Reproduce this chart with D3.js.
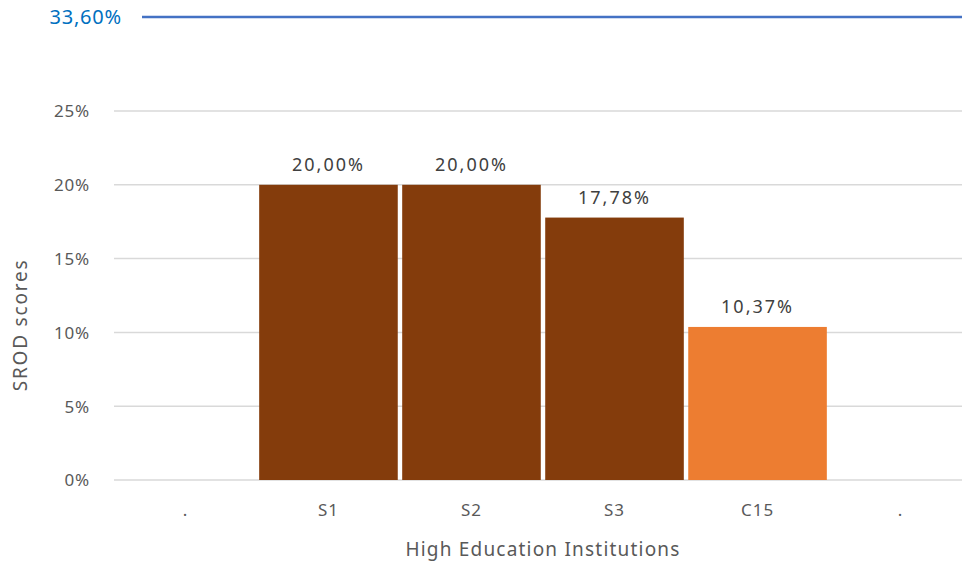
<!DOCTYPE html>
<html>
<head>
<meta charset="utf-8">
<script src="https://cdn.jsdelivr.net/npm/d3@7"></script>
<style>
  body { margin: 0; background: #fff; }
  svg { display: block; font-family: 'Noto Sans', sans-serif; }
  .tick text { fill: #595959; }
</style>
</head>
<body>
<svg width="962" height="562"></svg>
<script>
const categories = ['.', 'S1', 'S2', 'S3', 'C15', '..']
const tickLabels = ['.', 'S1', 'S2', 'S3', 'C15', '.']
const values = [null, 20.00, 20.00, 17.78, 10.37, null]
const barColors = [null, '#843C0C', '#843C0C', '#843C0C', '#ED7D31', null]
const yTicks = [0, 5, 10, 15, 20, 25]
const benchmark = 33.60

const fmt = (v) => v.toFixed(2).replace('.', ',') + '%'

function setDimensions () {
  const margin = { top: 111, right: -10, bottom: 82, left: 114 }
  const width = 962
  const height = 562
  return { width, height, margin }
}

function setScales ({ width, height, margin }) {
  const xScale = d3.scaleBand()
    .domain(categories)
    .range([margin.left, width - margin.right])
    .paddingInner(0.031)
    .paddingOuter(0.015)
  const yScale = d3.scaleLinear()
    .domain([0, 25])
    .range([height - margin.bottom, margin.top])
  return { xScale, yScale }
}

function drawGrid (svg, { width, margin }, { yScale }) {
  svg.append('g')
    .selectAll('line')
    .data(yTicks)
    .join('line')
      .attr('x1', margin.left)
      .attr('x2', width - margin.right)
      .attr('y1', (d) => yScale(d))
      .attr('y2', (d) => yScale(d))
      .attr('stroke', '#D9D9D9')
      .attr('stroke-width', 1.5)
}

function drawAxes (svg, dim, { xScale, yScale }) {
  const yAxis = svg.append('g')
    .attr('transform', 'translate(' + (dim.margin.left - 21) + ',0)')
    .call(d3.axisLeft(yScale).tickValues(yTicks).tickSize(0).tickFormat((t) => t + '%'))
  yAxis.select('.domain').remove()
  yAxis.selectAll('text')
    .attr('font-size', 17)
    .attr('font-family', 'Noto Sans')
    .attr('letter-spacing', 0.8)
    .attr('dy', '0.35em')

  const xAxis = svg.append('g')
    .attr('transform', 'translate(0,' + (dim.height - dim.margin.bottom) + ')')
    .call(d3.axisBottom(xScale).tickSize(0).tickFormat((d, i) => tickLabels[i]))
  xAxis.select('.domain').remove()
  xAxis.selectAll('text')
    .attr('font-size', 17)
    .attr('font-family', 'Noto Sans')
    .attr('letter-spacing', 1)
    .attr('dy', '1.95em')
}

function drawBars (svg, { xScale, yScale }) {
  const rows = categories.map((c, i) => ({ c, v: values[i], color: barColors[i] }))
    .filter((d) => d.v !== null)

  svg.append('g')
    .selectAll('rect')
    .data(rows)
    .join('rect')
      .attr('x', (d) => xScale(d.c))
      .attr('width', xScale.bandwidth())
      .attr('y', (d) => yScale(d.v))
      .attr('height', (d) => yScale(0) - yScale(d.v))
      .attr('fill', (d) => d.color)

  svg.append('g')
    .selectAll('text')
    .data(rows)
    .join('text')
      .attr('x', (d) => xScale(d.c) + xScale.bandwidth() / 2)
      .attr('y', (d) => yScale(d.v) - 14)
      .attr('text-anchor', 'middle')
      .attr('font-size', 18)
      .attr('letter-spacing', 2)
      .attr('fill', '#404040')
      .text((d) => fmt(d.v))
}

function drawBenchmark (svg, { width }) {
  const y = 17 // sits above the plotted range, as in the source
  svg.append('line')
    .attr('x1', 142)
    .attr('x2', width)
    .attr('y1', y)
    .attr('y2', y)
    .attr('stroke', '#4472C4')
    .attr('stroke-width', 2.5)
  svg.append('text')
    .attr('x', 122)
    .attr('y', y)
    .attr('dy', '0.35em')
    .attr('text-anchor', 'end')
    .attr('font-size', 20)
    .attr('letter-spacing', 0.8)
    .attr('fill', '#0070C0')
    .text(fmt(benchmark))
}

function drawTitles (svg) {
  svg.append('text')
    .attr('x', 543)
    .attr('y', 556)
    .attr('text-anchor', 'middle')
    .attr('font-size', 19)
    .attr('letter-spacing', 1.2)
    .attr('fill', '#595959')
    .text('High Education Institutions')

  svg.append('text')
    .attr('transform', 'translate(27,325) rotate(-90)')
    .attr('text-anchor', 'middle')
    .attr('font-size', 19)
    .attr('letter-spacing', 1.8)
    .attr('fill', '#595959')
    .text('SROD scores')
}

const dim = setDimensions()
const scales = setScales(dim)
const svg = d3.select('svg')
drawGrid(svg, dim, scales)
drawAxes(svg, dim, scales)
drawBars(svg, scales)
drawBenchmark(svg, dim)
drawTitles(svg)
</script>
</body>
</html>
